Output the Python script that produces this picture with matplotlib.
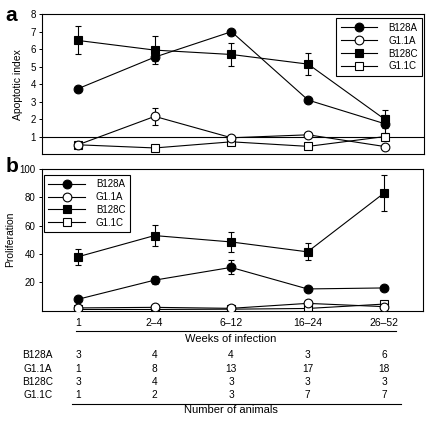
import matplotlib
matplotlib.use('Agg')
import matplotlib.pyplot as plt
import matplotlib.transforms as mtransforms
from matplotlib.lines import Line2D

plt.rcParams['font.family'] = ['Liberation Sans', 'DejaVu Sans']

# ---- data ----
weeks = ['1', '2\u20134', '6\u201312', '16\u201324', '26\u201352']
groups = ['B128A', 'G1.1A', 'B128C', 'G1.1C']

apo_b128a = [3.75, 5.55, 7.0, 3.1, 1.75]
apo_b128a_err = [0, 0.2, 0, 0, 0.5]
apo_g11a = [0.55, 2.17, 0.95, 1.12, 0.45]
apo_g11a_err = [0, 0.47, 0, 0, 0]
apo_b128c = [6.5, 5.95, 5.7, 5.15, 2.0]
apo_b128c_err = [0.8, 0.8, 0.68, 0.64, 0.52]
apo_g11c = [0.55, 0.37, 0.72, 0.46, 1.02]
apo_g11c_err = [0, 0, 0, 0, 0]

pro_b128a = [8.0, 21.5, 30.5, 15.3, 16.0]
pro_b128a_err = [0, 3.0, 5.0, 0, 0]
pro_g11a = [1.9, 2.3, 1.6, 5.1, 2.8]
pro_g11a_err = [0, 0, 0, 0, 0]
pro_b128c = [38.0, 53.0, 48.5, 41.5, 83.0]
pro_b128c_err = [5.5, 7.5, 7.0, 6.0, 12.5]
pro_g11c = [0.8, 0.8, 1.0, 1.5, 4.6]
pro_g11c_err = [0, 0, 0, 0, 0]

animals_b128a = [3, 4, 4, 3, 6]
animals_g11a = [1, 8, 13, 17, 18]
animals_b128c = [3, 4, 3, 3, 3]
animals_g11c = [1, 2, 3, 7, 7]

STYLE = {
    'B128A': dict(marker='o', mfc='black', ms=6.3),
    'G1.1A': dict(marker='o', mfc='white', ms=6.3),
    'B128C': dict(marker='s', mfc='black', ms=5.6),
    'G1.1C': dict(marker='s', mfc='white', ms=5.6),
}
Z = {'B128A': 4, 'G1.1A': 5, 'B128C': 3, 'G1.1C': 2}

fig = plt.figure(figsize=(4.35, 4.29), dpi=100)
ax_a = fig.add_axes([0.0966, 0.640, 0.878, 0.327])
ax_b = fig.add_axes([0.0966, 0.276, 0.876, 0.330])

x = list(range(len(weeks)))


def draw(ax, series):
    for name, vals, errs in series:
        st = STYLE[name]
        ax.errorbar(x, vals, yerr=errs, color='black', lw=0.8, elinewidth=0.8,
                    capsize=2.2, capthick=0.8, marker=st['marker'],
                    mfc=st['mfc'], mec='black', mew=0.8, ms=st['ms'],
                    label=name, zorder=Z[name])
    for s in ax.spines.values():
        s.set_linewidth(0.8)
    ax.set_xlim(-0.47, 4.51)
    ax.tick_params(axis='y', labelsize=7, length=2.5, width=0.7, pad=2)
    ax.tick_params(axis='x', bottom=False, labelbottom=False)


def legend(ax, loc, anchor):
    handles = [Line2D([], [], color='black', lw=0.8, marker=STYLE[g]['marker'],
                      mfc=STYLE[g]['mfc'], mec='black', mew=0.8,
                      ms=STYLE[g]['ms']) for g in groups]
    lg = ax.legend(handles, groups, loc=loc, bbox_to_anchor=anchor,
                   fontsize=7, handlelength=3.8, handletextpad=1.1,
                   borderpad=0.45, labelspacing=0.3, fancybox=False,
                   edgecolor='black', framealpha=1, borderaxespad=0)
    lg.get_frame().set_linewidth(0.8)


# ---- panel a ----
draw(ax_a, [('G1.1C', apo_g11c, apo_g11c_err),
            ('G1.1A', apo_g11a, apo_g11a_err),
            ('B128C', apo_b128c, apo_b128c_err),
            ('B128A', apo_b128a, apo_b128a_err)])
ax_a.axhline(1, color='black', lw=0.8, zorder=1)
ax_a.set_ylim(0, 8)
ax_a.set_yticks(range(1, 9))
ax_a.set_ylabel('Apoptotic index', fontsize=7.5, labelpad=5)
legend(ax_a, 'upper right', (0.995, 0.97))

# ---- panel b ----
draw(ax_b, [('G1.1C', pro_g11c, pro_g11c_err),
            ('G1.1A', pro_g11a, pro_g11a_err),
            ('B128C', pro_b128c, pro_b128c_err),
            ('B128A', pro_b128a, pro_b128a_err)])
ax_b.set_ylim(0, 100)
ax_b.set_yticks(range(20, 101, 20))
ax_b.set_ylabel('Proliferation', fontsize=7.5, labelpad=3)
legend(ax_b, 'upper left', (0.005, 0.96))

fig.text(0.012, 0.965, 'a', fontsize=15, fontweight='bold', va='center')
fig.text(0.012, 0.612, 'b', fontsize=15, fontweight='bold', va='center')

# ---- table below ----
tr = mtransforms.blended_transform_factory(ax_b.transData, fig.transFigure)


def fy(py):
    return 1 - py / 429.0


for xi, w in zip(x, weeks):
    fig.text(xi, fy(323), w, transform=tr, ha='center', va='center', fontsize=7.5)
fig.add_artist(Line2D([-0.02, 4.15], [fy(331), fy(331)], transform=tr,
                      color='black', lw=0.8))
fig.text(2.0, fy(339.5), 'Weeks of infection', transform=tr, ha='center',
         va='center', fontsize=8)

rows = [('B128A', animals_b128a), ('G1.1A', animals_g11a),
        ('B128C', animals_b128c), ('G1.1C', animals_g11c)]
row_y = [355, 369.5, 382, 395]
for (name, counts), py in zip(rows, row_y):
    fig.text(0.087, fy(py), name, ha='center', va='center', fontsize=7.3)
    for xi, c in zip(x, counts):
        fig.text(xi, fy(py), str(c), transform=tr, ha='center', va='center',
                 fontsize=7.3)
fig.add_artist(Line2D([-0.08, 4.22], [fy(404), fy(404)], transform=tr,
                      color='black', lw=0.8))
fig.text(2.0, fy(410), 'Number of animals', transform=tr, ha='center',
         va='center', fontsize=8)

fig.savefig('out.png', dpi=100, facecolor='white')
